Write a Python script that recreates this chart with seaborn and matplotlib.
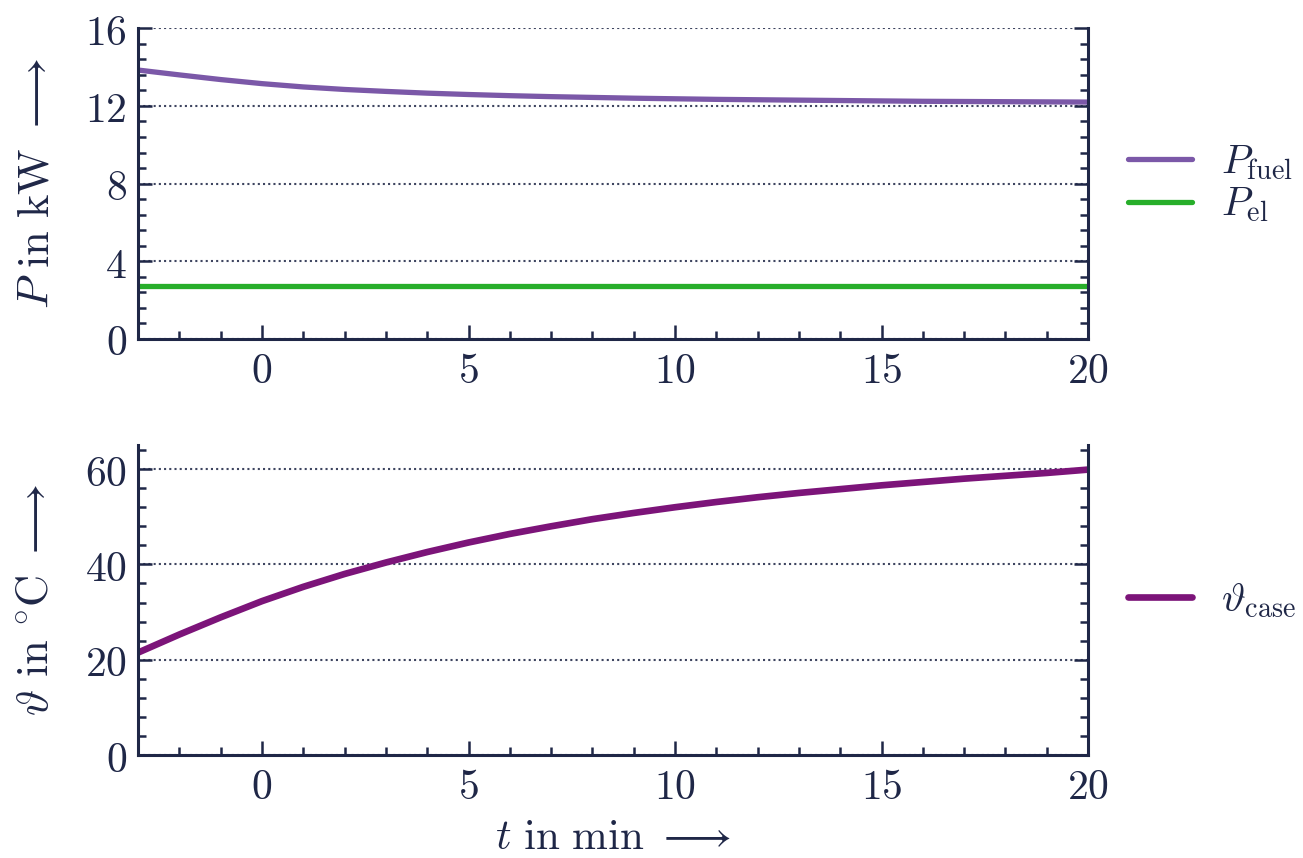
import numpy as np
import pandas as pd
import matplotlib
matplotlib.use("Agg")
import matplotlib.pyplot as plt
from matplotlib.ticker import MultipleLocator, FuncFormatter
import seaborn as sns

# ----------------------------
# Data
# ----------------------------
t_min = [-3, -2, -1, 0, 1, 2, 3, 4, 5, 6, 7, 8, 9, 10, 11, 12, 13, 14, 15, 16, 17, 18, 19, 20]
p_fuel = [13.85, 13.6, 13.36, 13.15, 12.98, 12.85, 12.75, 12.66, 12.59, 12.53, 12.48, 12.44,
          12.40, 12.37, 12.34, 12.32, 12.30, 12.28, 12.26, 12.24, 12.23, 12.22, 12.21, 12.20]
p_el = [2.72] * len(t_min)
theta_case = [21.5, 25.3, 28.9, 32.3, 35.3, 38.0, 40.4, 42.6, 44.6, 46.4, 48.0, 49.5,
              50.8, 52.0, 53.1, 54.1, 55.0, 55.8, 56.6, 57.3, 58.0, 58.6, 59.2, 59.9]

# ----------------------------
# Style
# ----------------------------
NAVY = "#1f2747"
sns.set_theme(style="ticks")
plt.rcParams.update({
    "mathtext.fontset": "cm",
    "font.family": ["DejaVu Serif"],
    "axes.edgecolor": NAVY,
    "axes.labelcolor": NAVY,
    "xtick.color": NAVY,
    "ytick.color": NAVY,
    "text.color": NAVY,
    "axes.linewidth": 2.2,
})

colors = {"fuel": "#7b58a8", "el": "#27ae2a", "case": "#7c1479"}

df_p = pd.DataFrame({
    "t": t_min * 2,
    "P": p_fuel + p_el,
    "series": [r"$P_{\mathrm{fuel}}$"] * len(t_min) + [r"$P_{\mathrm{el}}$"] * len(t_min),
})
df_th = pd.DataFrame({"t": t_min, "theta": theta_case,
                      "series": [r"$\vartheta_{\mathrm{case}}$"] * len(t_min)})

fig = plt.figure(figsize=(13.03, 8.58), dpi=100)
ax1 = fig.add_axes([0.106, 0.605, 0.729, 0.362])
ax2 = fig.add_axes([0.106, 0.120, 0.729, 0.361])

sns.lineplot(data=df_p, x="t", y="P", hue="series", ax=ax1, linewidth=3.8,
             palette=[colors["fuel"], colors["el"]])
sns.lineplot(data=df_th, x="t", y="theta", hue="series", ax=ax2, linewidth=4.8,
             palette=[colors["case"]])

math_fmt = FuncFormatter(lambda v, pos: f"${v:g}$")

for ax, ymax, ymaj, ymin in [(ax1, 16, 4, 0.8), (ax2, 65, 20, 4)]:
    ax.set_xlim(-3, 20)
    ax.set_ylim(0, ymax)
    ax.xaxis.set_major_locator(MultipleLocator(5))
    ax.xaxis.set_minor_locator(MultipleLocator(1))
    ax.yaxis.set_major_locator(MultipleLocator(ymaj))
    ax.yaxis.set_minor_locator(MultipleLocator(ymin))
    ax.xaxis.set_major_formatter(math_fmt)
    ax.yaxis.set_major_formatter(math_fmt)
    ax.tick_params(which="both", direction="in", left=True, right=True, top=False,
                   labelsize=30, width=1.8)
    ax.tick_params(which="major", length=10, pad=8)
    ax.tick_params(which="minor", length=6)
    ax.spines["top"].set_visible(False)
    ax.grid(axis="y", which="major", linestyle=(0, (1, 1.5)), color="#3e4560", linewidth=1.5)
    ax.set_axisbelow(True)
    ax.set_xlabel("")
    ax.legend(loc="center left", bbox_to_anchor=(1.025, 0.5), borderaxespad=0, frameon=False,
              fontsize=29, handlelength=1.6, handletextpad=0.7, labelspacing=0.1, title=None)

ax1.set_ylabel(r"$P\ \mathrm{in\ kW}\ \longrightarrow$", fontsize=32, labelpad=20)
ax2.set_ylabel(r"$\vartheta\ \mathrm{in}\ ^{\circ}\mathrm{C}\ \longrightarrow$", fontsize=32, labelpad=20)
ax2.set_xlabel(r"$t\ \mathrm{in\ min}\ \longrightarrow$", fontsize=31, labelpad=6)

fig.savefig("out.png", dpi=100)
